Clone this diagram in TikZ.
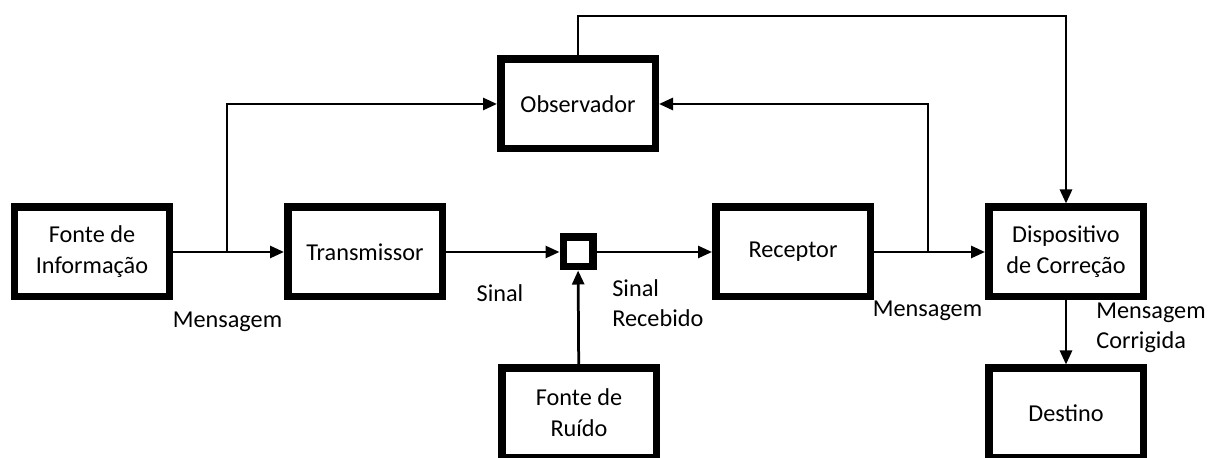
\documentclass[tikz,border=0pt]{standalone}
\usepackage{fontspec}
\setmainfont{Carlito}
\usetikzlibrary{arrows.meta}

\begin{document}
\begin{tikzpicture}[
        bloco/.style={draw, line width=0.15cm, minimum width=3.09cm, minimum height=1.79cm, align=center},
        somador/.style={draw, line width=0.15cm, minimum size=0.59cm, inner sep=0pt},
        rotulo/.style={inner sep=0pt},
        linha/.style={line width=0.055cm},
        seta/.style={linha, -{Triangle[length=0.28cm, width=0.24cm]}},
        every node/.style={font=\fontsize{13.8pt}{17.5pt}\selectfont}
    ]
        \useasboundingbox (0, 0) rectangle (24.16, 9.16);

        \node[bloco] at (1.84, 4.12)     (fonte)   {Fonte de\\Informação};
        \node[bloco] at (7.30, 4.12)     (trans)   {Transmissor};
        \node[somador] at (11.56, 4.12)  (soma)    {};
        \node[bloco] at (15.86, 4.12)    (recep)   {Receptor};
        \node[bloco] at (21.32, 4.12)    (disp)    {Dispositivo\\de Correção};
        \node[bloco] at (11.56, 7.08)    (obs)     {Observador};
        \node[bloco] at (11.58, 0.90)    (ruido)   {Fonte de\\Ruído};
        \node[bloco] at (21.32, 0.90)    (destino) {Destino};

        \coordinate (ramo1) at (4.54, 4.12);
        \coordinate (ramo2) at (18.56, 4.12);
        \coordinate (topo)  at (11.56, 8.84);

        \draw[seta] (fonte) -- (trans);
        \draw[seta] (ramo1) |- (obs);
        \draw[seta] (trans) -- (soma);
        \draw[seta] (ruido) -- (soma);
        \draw[seta] (soma) -- (recep);
        \draw[seta] (recep) -- (disp);
        \draw[seta] (ramo2) |- (obs);
        \draw[seta] (obs) -- (topo) -| (disp);
        \draw[seta] (disp) -- (destino);

        \node[rotulo, anchor=base] at (4.55, 2.60)  (msg1)  {Mensagem};
        \node[rotulo, anchor=base] at (10.00, 3.12) (sinal) {Sinal};
        \node[rotulo, anchor=base west, align=left] at (12.24, 2.62) (sinalrec) {Sinal\\Recebido};
        \node[rotulo, anchor=base] at (18.55, 2.82) (msg2)  {Mensagem};
        \node[rotulo, anchor=base west, align=left] at (21.92, 2.18) (msgcorr) {Mensagem\\Corrigida};
    \end{tikzpicture}
\end{document}
